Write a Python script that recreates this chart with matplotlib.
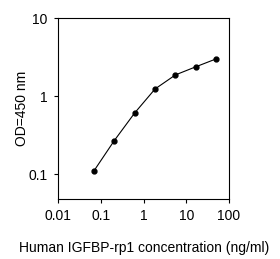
import matplotlib
matplotlib.use("Agg")
from matplotlib import pyplot as plt
from matplotlib.ticker import FixedLocator, FixedFormatter, NullLocator

# data
conc = [0.0686, 0.206, 0.617, 1.85, 5.56, 16.67, 50]
od = [0.11, 0.27, 0.61, 1.24, 1.88, 2.39, 3.02]
xticks = [0.01, 0.1, 1, 10, 100]
xlabels = ["0.01", "0.1", "1", "10", "100"]
yticks = [0.1, 1, 10]
ylabels = ["0.1", "1", "10"]

plt.rcParams['font.family'] = ['Liberation Sans', 'DejaVu Sans']

fig = plt.figure(figsize=(2.8, 2.59), dpi=100)
ax = fig.add_axes([0.208, 0.232, 0.610, 0.697])
ax.plot(conc, od, color='black', linewidth=0.8, marker='o', markersize=3.5)
ax.set_xscale('log')
ax.set_yscale('log')
ax.set_xlim(0.01, 100)
ax.set_ylim(0.048, 10)

ax.xaxis.set_major_locator(FixedLocator(xticks))
ax.xaxis.set_major_formatter(FixedFormatter(xlabels))
ax.xaxis.set_minor_locator(NullLocator())
ax.yaxis.set_major_locator(FixedLocator(yticks))
ax.yaxis.set_major_formatter(FixedFormatter(ylabels))
ax.yaxis.set_minor_locator(NullLocator())
ax.tick_params(direction='out', length=3, width=0.8, labelsize=10, top=False, right=False)
ax.tick_params(axis='x', pad=4)
ax.tick_params(axis='y', pad=5)
for s in ax.spines.values():
    s.set_linewidth(0.8)

ax.set_xlabel("Human IGFBP-rp1 concentration (ng/ml)", fontsize=10, labelpad=13)
ax.set_ylabel("OD=450 nm", fontsize=10, labelpad=-1)

fig.savefig("out.png", dpi=100)
